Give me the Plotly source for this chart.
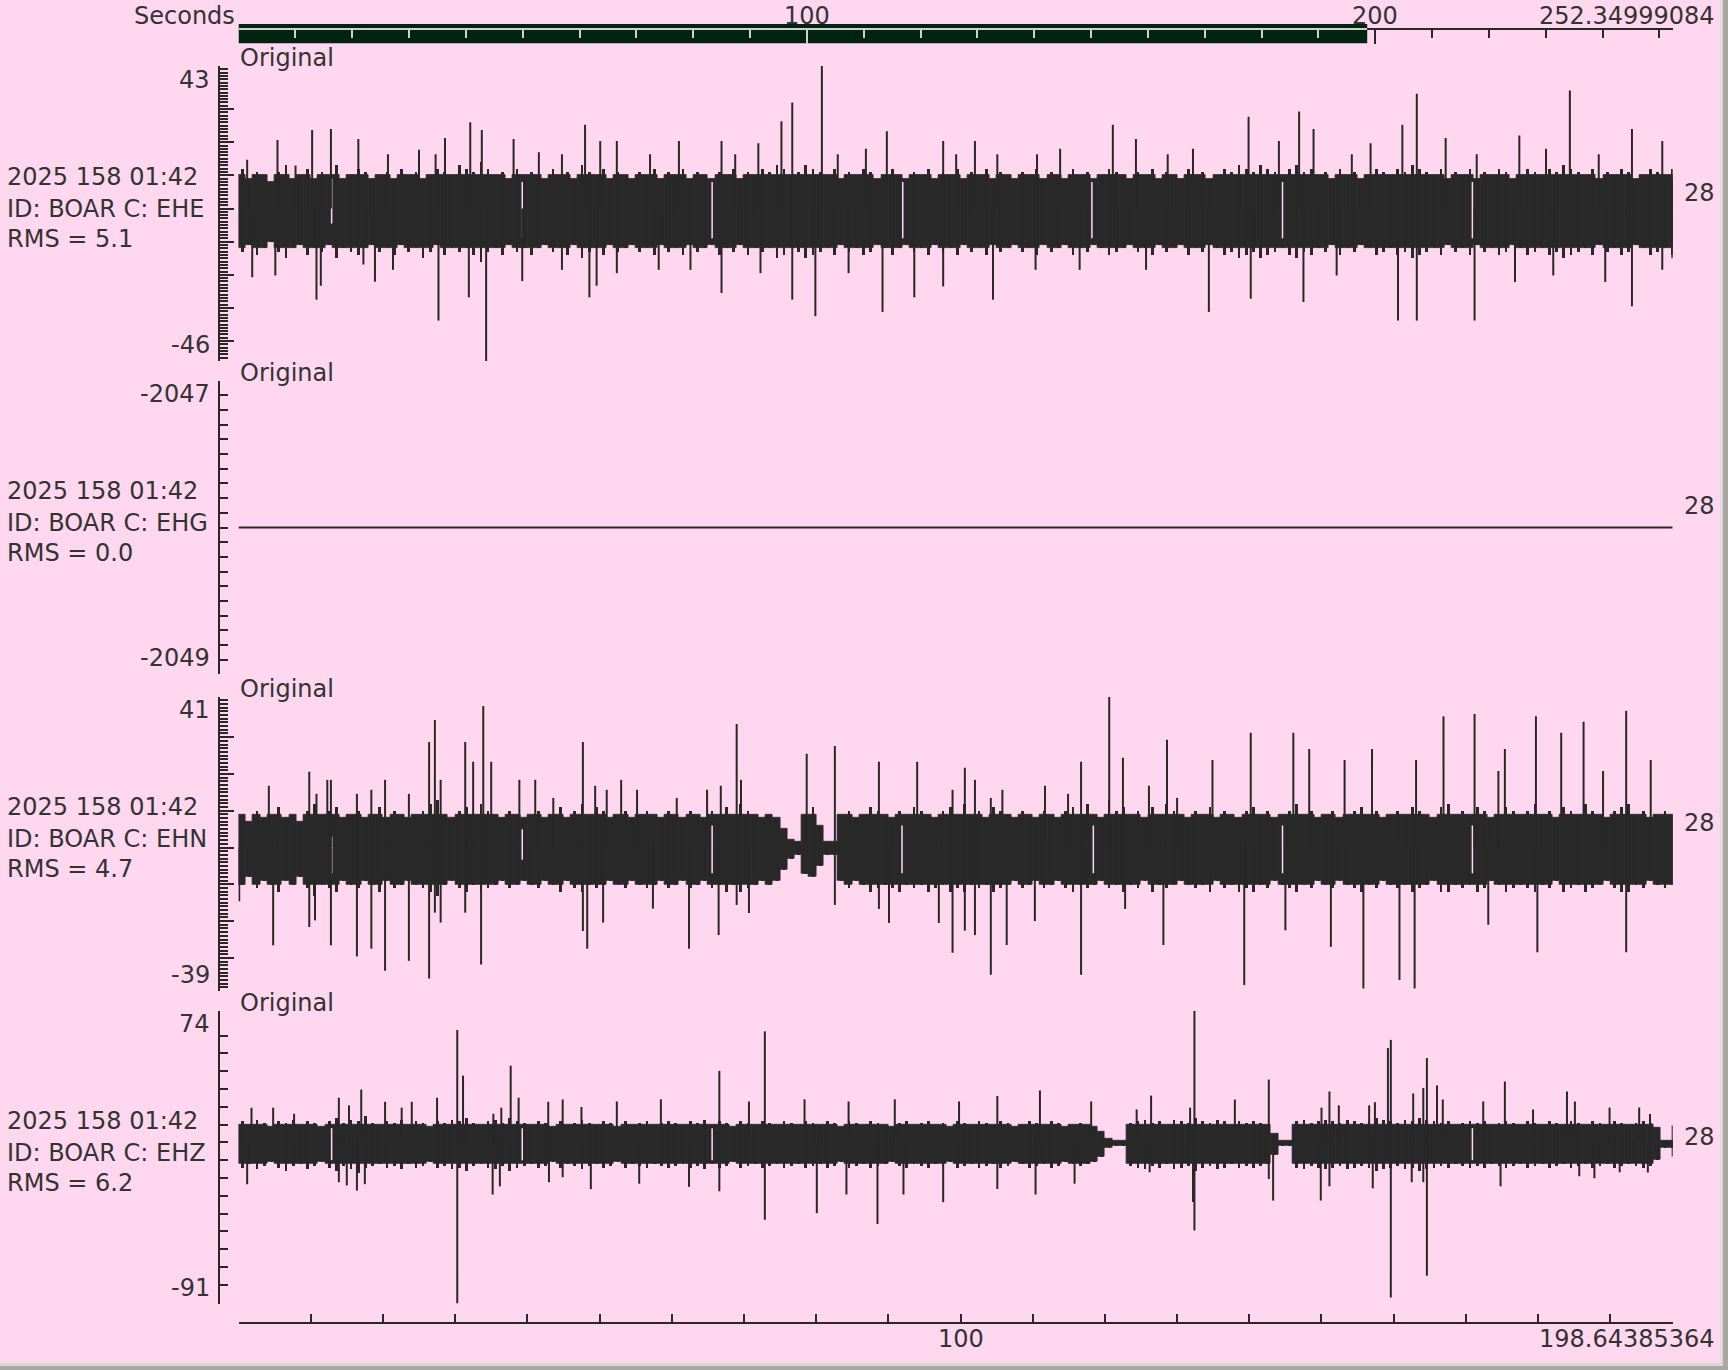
import plotly.graph_objects as go

# ---------------- canvas / style ----------------
W, H = 1728, 1370
BG = '#FFD8F0'
INK = '#282828'
TXT = '#333333'
FONT = 'DejaVu Sans'
FS = 24

# ---------------- header data ----------------
TOTAL_SECONDS = 252.34999084
VIEW_SECONDS = 198.64385364
DATE_LABEL = '2025 158 01:42'
STATION = 'BOAR'
channels = ['EHE', 'EHG', 'EHN', 'EHZ']
rms_values = ['5.1', '0.0', '4.7', '6.2']
y_max = [43, -2047, 41, 74]
y_min = [-46, -2049, -39, -91]
right_label = '28'
top_tick_labels = [100, 200]
bottom_tick_labels = [100]

# one envelope column per second of record (0 .. 198 s)
band_t = list(range(0, 199))

# ---------------- EHE (panel 1) ----------------
ehe_core = [10, -12]          # dense part of the trace
ehe_hi = [12, 9, 11, 10, 8, 11, 13, 9, 10, 12, 9, 11, 10, 13, 9, 10, 12, 11, 9, 10,
          11, 9, 12, 10, 11, 9, 10, 12, 11, 10, 13, 12, 11, 14, 12, 10, 11, 9, 12, 10,
          11, 10, 9, 12, 10, 11, 9, 13, 11, 10, 12, 9, 11, 10, 9, 11, 10, 12, 9, 11,
          10, 12, 9, 11, 10, 9, 11, 10, 12, 9, 11, 10, 12, 11, 13, 12, 10, 11, 13, 12,
          11, 10, 12, 9, 11, 10, 12, 11, 9, 10, 12, 10, 9, 11, 10, 12, 9, 11, 10, 12,
          9, 11, 10, 12, 9, 11, 10, 9, 11, 10, 12, 9, 11, 10, 9, 12, 10, 11, 9, 10,
          12, 11, 10, 9, 11, 10, 12, 9, 11, 10, 9, 12, 10, 11, 9, 10, 12, 11, 13, 12,
          11, 13, 12, 11, 10, 12, 13, 11, 12, 10, 11, 9, 12, 10, 11, 9, 10, 12, 11, 10,
          12, 11, 13, 12, 11, 10, 12, 9, 11, 10, 12, 9, 11, 10, 12, 11, 9, 10, 12, 11,
          10, 12, 11, 13, 12, 11, 10, 12, 9, 11, 10, 12, 11, 9, 10, 12, 11, 10, 12]
ehe_lo = [-13, -11, -14, -12, -10, -13, -15, -12, -11, -14, -12, -13, -11, -15, -12, -13, -14, -12, -11, -13,
          -12, -14, -11, -13, -12, -15, -13, -11, -14, -12, -13, -12, -14, -16, -13, -12, -14, -11, -13, -12,
          -14, -12, -11, -13, -12, -14, -11, -15, -13, -12, -14, -11, -13, -12, -11, -13, -12, -14, -11, -13,
          -12, -14, -11, -13, -12, -11, -14, -12, -13, -11, -14, -12, -13, -12, -15, -14, -12, -13, -15, -14,
          -13, -12, -14, -11, -13, -12, -14, -13, -11, -12, -14, -12, -11, -13, -12, -14, -11, -13, -12, -14,
          -11, -13, -12, -14, -11, -13, -12, -11, -13, -12, -14, -11, -13, -12, -11, -14, -12, -13, -11, -12,
          -14, -13, -12, -11, -13, -12, -14, -11, -13, -12, -11, -14, -12, -13, -11, -12, -14, -13, -15, -14,
          -13, -15, -14, -13, -12, -14, -15, -13, -14, -12, -13, -11, -14, -12, -13, -11, -12, -14, -13, -12,
          -14, -13, -15, -14, -13, -12, -14, -11, -13, -12, -14, -11, -13, -12, -14, -13, -11, -12, -14, -13,
          -12, -14, -13, -15, -14, -13, -12, -14, -11, -13, -12, -14, -13, -11, -12, -14, -13, -12, -14]
ehe_up_t = [1.2, 5.4, 7.9, 10.2, 12.8, 16.6, 20.7, 25.0, 27.3, 28.6,
            32.1, 33.7, 38.1, 41.6, 44.8, 48.0, 50.1, 52.4, 57.0, 61.0,
            66.9, 68.8, 72.0, 75.2, 76.7, 80.8, 83.0, 86.9, 89.8, 97.6,
            99.4, 102.0, 105.1, 110.6, 113.8, 121.1, 124.3, 128.7, 132.2, 139.9,
            144.1, 146.9, 148.9, 154.2, 156.8, 161.2, 163.2, 167.2, 171.5, 177.4,
            181.1, 184.4, 188.4, 193.0, 197.2, 198.6]
ehe_up_v = [14.7, 20.7, 13.0, 23.7, 24.0, 21.0, 16.4, 17.7, 16.4, 21.3,
            26.0, 23.7, 21.0, 17.0, 16.4, 25.3, 20.4, 20.4, 16.4, 20.4,
            20.4, 16.4, 19.7, 26.3, 32.0, 43.0, 16.4, 18.0, 23.3, 20.4,
            16.4, 20.4, 16.4, 16.4, 18.0, 25.3, 21.0, 16.4, 18.0, 27.7,
            20.4, 29.3, 24.0, 16.4, 19.7, 25.3, 34.6, 21.3, 16.4, 22.0,
            18.0, 35.6, 16.4, 24.0, 20.4, 9]
ehe_dn_t = [1.9, 5.1, 10.8, 11.4, 17.3, 18.9, 21.4, 27.7, 31.9, 34.3,
            39.3, 44.8, 48.6, 49.6, 52.4, 58.2, 62.6, 66.9, 72.3, 76.7,
            79.9, 84.5, 89.2, 93.6, 97.6, 104.5, 110.4, 116.5, 125.7, 134.4,
            140.2, 147.5, 152.1, 160.6, 163.2, 171.2, 176.8, 182.1, 189.3, 193.0,
            197.2, 198.6]
ehe_dn_v = [-20.7, -20.2, -27.5, -23.3, -16.9, -22.1, -18.5, -33.8, -26.8, -46.0,
            -21.9, -18.5, -26.8, -23.3, -19.5, -18.5, -18.5, -25.5, -19.5, -27.5,
            -32.5, -19.5, -31.2, -26.8, -23.5, -27.5, -18.5, -18.5, -18.5, -31.2,
            -27.2, -28.2, -20.2, -33.8, -33.8, -33.8, -22.2, -20.2, -22.2, -29.5,
            -18.5, -15]
ehe_gap_t = [12.9, 39.3, 65.6, 92.0, 118.2, 144.6, 170.9]
ehe_gap_top = [9, 8, 8, 8, 8, 8, 8]
ehe_gap_bot = [-4.5, -9, -9, -9, -9, -9, -9]

# ---------------- EHG (panel 2) ----------------
ehg_t = [0, 198.64]
ehg_v = [-2048, -2048]

# ---------------- EHN (panel 3) ----------------
ehn_core = [9, -10]
ehn_hi = [9, 7, 10, 8, 9, 11, 8, 9, 7, 10, 12, 9, 10, 11, 8, 9, 10, 8, 9, 11,
          8, 10, 9, 8, 9, 10, 12, 13, 9, 8, 10, 11, 9, 12, 10, 9, 8, 10, 9, 8,
          9, 10, 8, 9, 11, 8, 10, 12, 9, 11, 10, 8, 9, 10, 8, 9, 10, 9, 8, 10,
          9, 8, 10, 9, 8, 10, 9, 11, 9, 12, 10, 9, 8, 9, 8, 5, 2, 1.5, 9, 11,
          6, 1.5, 1.5, 9, 10, 8, 9, 11, 10, 9, 8, 10, 9, 11, 10, 9, 8, 10, 11, 9,
          12, 9, 10, 8, 11, 10, 9, 8, 10, 9, 8, 10, 9, 8, 10, 11, 9, 12, 9, 8,
          13, 10, 11, 9, 10, 8, 11, 9, 12, 10, 9, 8, 10, 9, 11, 8, 10, 9, 8, 10,
          11, 9, 10, 8, 9, 10, 12, 9, 10, 8, 9, 10, 8, 9, 10, 11, 9, 10, 8, 9,
          10, 9, 11, 10, 9, 8, 11, 12, 9, 10, 9, 11, 10, 8, 9, 11, 10, 9, 10, 12,
          9, 10, 8, 11, 10, 9, 12, 10, 9, 8, 10, 11, 12, 9, 10, 8, 9, 10, 9]
ehn_lo = [-10, -8, -11, -9, -10, -12, -9, -10, -8, -11, -13, -10, -11, -12, -9, -10, -11, -9, -10, -12,
          -9, -11, -10, -9, -10, -11, -12, -13, -10, -9, -11, -12, -10, -12, -11, -10, -9, -11, -10, -9,
          -10, -11, -9, -10, -12, -9, -11, -12, -10, -11, -10, -9, -10, -11, -9, -10, -11, -10, -9, -11,
          -10, -9, -11, -10, -9, -11, -10, -12, -10, -12, -11, -10, -9, -10, -9, -6, -3, -2, -7, -8,
          -5, -2, -2, -9, -11, -9, -10, -12, -11, -10, -11, -12, -10, -11, -10, -12, -11, -10, -12, -11,
          -12, -10, -11, -10, -12, -11, -10, -9, -11, -10, -9, -11, -10, -9, -11, -12, -10, -11, -10, -9,
          -11, -10, -12, -10, -11, -9, -12, -10, -11, -10, -9, -10, -11, -10, -12, -9, -11, -10, -12, -11,
          -12, -10, -11, -9, -10, -11, -12, -10, -11, -9, -10, -11, -9, -10, -11, -12, -10, -11, -9, -10,
          -11, -10, -12, -11, -10, -9, -12, -12, -10, -11, -10, -12, -11, -9, -10, -12, -11, -10, -11, -12,
          -10, -11, -9, -12, -11, -10, -12, -11, -10, -9, -11, -12, -12, -10, -11, -9, -10, -11, -10]
ehn_up_t = [4.2, 9.8, 10.8, 12.3, 12.8, 16.4, 18.4, 20.3, 23.6, 26.4,
            27.2, 28.0, 31.4, 32.5, 33.9, 35.0, 38.9, 41.1, 43.6, 47.7,
            49.4, 51.0, 53.0, 55.2, 60.7, 64.9, 66.8, 69.0, 69.6, 78.7,
            82.6, 88.7, 94.0, 98.9, 100.6, 102.0, 104.2, 105.8, 111.7, 114.9,
            116.7, 120.6, 122.5, 126.1, 128.6, 130.0, 134.9, 140.2, 146.1, 148.3,
            153.2, 157.0, 163.1, 166.9, 171.2, 174.5, 175.4, 179.7, 183.2, 186.3,
            189.0, 192.2, 195.6]
ehn_up_v = [16.8, 20.6, 14.6, 18.4, 18.4, 14.6, 15.7, 18.4, 14.6, 28.7,
            34.7, 18.4, 28.7, 23.3, 38.5, 23.3, 18.4, 18.4, 13.5, 28.7,
            16.8, 15.7, 18.4, 15.7, 13.5, 15.7, 16.8, 33.6, 18.4, 25.5,
            27.6, 23.3, 23.3, 15.7, 21.7, 18.4, 13.5, 15.7, 16.8, 14.6,
            23.3, 41.0, 24.4, 16.8, 29.3, 13.5, 23.8, 31.2, 31.2, 26.8,
            23.8, 26.8, 23.8, 35.7, 36.3, 20.8, 26.8, 35.7, 31.2, 34.2,
            20.8, 37.2, 23.8]
ehn_dn_t = [0.1, 4.8, 9.8, 10.6, 12.8, 16.4, 18.4, 20.3, 23.6, 26.4,
            27.2, 28.0, 31.4, 33.6, 47.7, 48.3, 50.5, 57.4, 62.4, 66.5,
            69.0, 70.7, 82.6, 88.7, 90.1, 97.0, 98.9, 100.6, 102.0, 104.2,
            106.4, 110.3, 116.7, 122.8, 128.1, 139.3, 145.0, 151.3, 155.8, 160.8,
            162.9, 173.1, 179.9, 192.2]
ehn_dn_v = [-14.6, -26.6, -21.6, -19.8, -26.6, -29.6, -27.5, -33.5, -30.8, -35.6,
            -17.7, -20.4, -17.7, -31.8, -22.7, -27.5, -20.4, -16.6, -27.5, -23.8,
            -15.6, -17.8, -15.6, -16.7, -20.5, -20.5, -28.6, -22.6, -23.8, -34.6,
            -26.5, -20.0, -34.6, -16.7, -26.5, -37.4, -22.5, -27.0, -38.3, -36.0,
            -38.3, -21.0, -28.5, -28.5]
ehn_gap_t = [12.9, 39.3, 65.6, 91.9, 118.4, 144.6, 170.9]
ehn_gap_top = [3, 5, 6, 6, 6, 6, 6]
ehn_gap_bot = [-7, -3.3, -7, -7, -7, -7, -7]

# ---------------- EHZ (panel 4) ----------------
ehz_core = [10, -12]
ehz_hi = [12, 10, 13, 11, 9, 12, 11, 13, 10, 12, 11, 9, 12, 14, 11, 13, 12, 15, 11, 10,
          12, 11, 13, 10, 12, 11, 9, 12, 11, 13, 12, 14, 11, 10, 12, 13, 11, 14, 12, 11,
          10, 12, 11, 9, 12, 10, 11, 13, 11, 10, 12, 11, 9, 12, 10, 11, 12, 10, 11, 12,
          11, 10, 12, 11, 13, 10, 12, 11, 9, 12, 11, 10, 12, 11, 10, 12, 11, 10, 12, 11,
          10, 12, 11, 9, 12, 11, 10, 12, 11, 10, 9, 11, 12, 10, 11, 12, 10, 11, 9, 12,
          11, 10, 12, 11, 10, 12, 11, 9, 10, 12, 11, 10, 12, 11, 9, 10, 11, 10, 9, 6,
          2, 1, 1, 11, 12, 13, 11, 12, 10, 13, 12, 11, 14, 12, 11, 13, 12, 10, 12, 11,
          12, 11, 10, 5, 1, 1, 12, 13, 11, 12, 13, 12, 11, 13, 12, 11, 12, 14, 13, 12,
          11, 13, 12, 14, 13, 12, 11, 12, 10, 11, 12, 11, 12, 10, 11, 12, 11, 10, 12, 11,
          10, 12, 11, 10, 12, 11, 10, 12, 11, 10, 12, 11, 10, 11, 12, 11, 8, 1, 1]
ehz_lo = [-14, -12, -15, -13, -11, -14, -16, -13, -12, -15, -13, -11, -14, -16, -13, -15, -17, -14, -13, -12,
          -14, -13, -15, -12, -14, -13, -11, -14, -13, -15, -14, -16, -13, -12, -14, -15, -13, -16, -14, -13,
          -12, -14, -13, -11, -14, -12, -13, -15, -13, -12, -14, -13, -11, -14, -12, -13, -14, -12, -13, -14,
          -13, -12, -14, -13, -15, -12, -14, -13, -11, -14, -13, -12, -14, -13, -12, -14, -13, -12, -14, -13,
          -12, -14, -13, -11, -14, -13, -12, -14, -13, -12, -11, -13, -14, -12, -13, -14, -12, -13, -11, -14,
          -13, -12, -14, -13, -12, -14, -13, -11, -12, -14, -13, -12, -14, -13, -11, -12, -13, -12, -11, -8,
          -3, -2, -2, -13, -14, -15, -13, -14, -12, -15, -14, -13, -16, -14, -13, -15, -14, -12, -14, -13,
          -14, -13, -12, -7, -2, -2, -14, -15, -13, -14, -15, -14, -13, -15, -14, -13, -14, -16, -15, -14,
          -13, -15, -14, -16, -15, -14, -13, -14, -12, -13, -14, -13, -14, -12, -13, -14, -13, -12, -14, -13,
          -12, -14, -13, -12, -14, -13, -12, -14, -13, -12, -14, -13, -12, -13, -14, -13, -10, -3, -3]
ehz_up_t = [1.8, 4.8, 7.7, 13.9, 15.3, 17.0, 20.3, 22.6, 24.0, 27.5,
            30.3, 31.1, 35.3, 36.4, 37.7, 38.8, 42.9, 44.9, 47.5, 52.4,
            58.5, 66.6, 70.7, 72.9, 78.4, 84.5, 90.9, 99.8, 105.1, 111.0,
            118.1, 124.4, 126.4, 131.8, 132.4, 138.0, 142.7, 150.0, 151.1, 152.4,
            156.6, 157.4, 159.2, 159.6, 162.7, 164.1, 164.6, 166.0, 166.8, 172.4,
            175.4, 179.3, 184.0, 185.1, 189.9, 194.0, 195.5, 198.64]
ehz_up_v = [19.5, 19.5, 16.1, 25.1, 20.8, 29.7, 22.8, 19.5, 22.8, 25.1,
            63.2, 37.5, 16.1, 19.5, 43.1, 25.1, 22.8, 24.1, 19.9, 23.0,
            24.2, 40.2, 23.0, 62.4, 24.2, 23.0, 24.2, 23.0, 26.1, 29.2,
            23.0, 18.5, 26.3, 19.5, 74.0, 24.1, 35.3, 19.5, 28.6, 20.8,
            20.8, 22.6, 53.0, 57.6, 27.5, 30.6, 47.4, 32.0, 24.1, 23.0,
            34.2, 18.5, 28.6, 23.0, 19.6, 19.6, 16.0, 9.5]
ehz_dn_t = [1.2, 13.9, 15.0, 16.4, 17.5, 30.3, 35.2, 36.2, 43.0, 44.9,
            48.8, 55.5, 62.4, 66.6, 72.9, 80.1, 84.2, 88.5, 92.1, 97.6,
            105.1, 110.4, 115.8, 126.2, 132.2, 132.4, 142.7, 143.3, 149.9, 151.1,
            157.1, 159.6, 162.5, 164.1, 164.6, 174.8, 185.7, 187.8, 191.3, 195.2,
            198.64]
ehz_dn_v = [-23.5, -22.4, -24.2, -27.1, -23.5, -90.4, -29.3, -24.7, -22.4, -19.6,
            -26.3, -23.2, -25.0, -27.5, -43.5, -39.8, -29.3, -45.9, -29.3, -33.6,
            -26.2, -29.3, -23.2, -16.8, -33.5, -49.5, -20.6, -32.7, -32.7, -24.7,
            -25.8, -87.2, -22.4, -22.4, -74.9, -24.7, -19.1, -20.2, -16.8, -17.0,
            -8.0]
ehz_gap_t = [12.9, 39.3, 65.6, 170.9]
ehz_gap_top = [8, 8, 8, 8]
ehz_gap_bot = [-10, -10, -10, -10]

# ---------------- tick lists ----------------
ehe_major = [30, 20, 10, 0, -10, -20, -30, -40]
ehn_major = [30, 20, 10, 0, -10, -20, -30]
ehz_ticks = [60, 50, 40, 30, 20, 10, 0, -10, -20, -30, -40, -50, -60, -70, -80]
ehg_step = 0.1
axis_step = 10


# ---------------- helpers (layout only) ----------------
def xp(px):
    return px / W


def yp(py):
    return 1 - py / H


X0, X1 = xp(238.5), xp(1672.7)
YAX_X = xp(219)
panel_px = [(66, 361), (380.7, 674.3), (696.7, 991), (1010.7, 1304.3)]
TOOTH = 0.38   # width (s) of the envelope "teeth" drawn outside the dense core

wave = {
    'EHE': dict(core=ehe_core, hi=ehe_hi, lo=ehe_lo, ut=ehe_up_t, uv=ehe_up_v, dt=ehe_dn_t,
                dv=ehe_dn_v, gt=ehe_gap_t, gtop=ehe_gap_top, gbot=ehe_gap_bot),
    'EHN': dict(core=ehn_core, hi=ehn_hi, lo=ehn_lo, ut=ehn_up_t, uv=ehn_up_v, dt=ehn_dn_t,
                dv=ehn_dn_v, gt=ehn_gap_t, gtop=ehn_gap_top, gbot=ehn_gap_bot),
    'EHZ': dict(core=ehz_core, hi=ehz_hi, lo=ehz_lo, ut=ehz_up_t, uv=ehz_up_v, dt=ehz_dn_t,
                dv=ehz_dn_v, gt=ehz_gap_t, gtop=ehz_gap_top, gbot=ehz_gap_bot),
}

fig = go.Figure()
annotations = []


def ann(text, x, y, xanchor='left', xref='paper', yanchor='middle'):
    annotations.append(dict(text=text, x=x, y=y, xref=xref, yref='paper',
                            xanchor=xanchor, yanchor=yanchor, showarrow=False,
                            font=dict(family=FONT, size=FS, color=TXT)))


for i, ch in enumerate(channels):
    yname = 'y' if i == 0 else f'y{i + 1}'
    top, bot = panel_px[i]
    if ch in wave:
        d = wave[ch]
        cols = list(zip(band_t, d['hi'], d['lo']))
        ct, cb = d['core']
        # envelope teeth (hi..lo per second)
        fig.add_trace(go.Bar(x=[c[0] for c in cols], y=[c[1] - c[2] for c in cols],
                             base=[c[2] for c in cols], offset=(1 - TOOTH) / 2, width=TOOTH,
                             marker=dict(color=INK, line=dict(width=0)),
                             yaxis=yname, hoverinfo='skip'))
        # dense core
        core_top = [min(c[1], ct) for c in cols]
        core_bot = [max(c[2], cb) for c in cols]
        fig.add_trace(go.Bar(x=[c[0] for c in cols], y=[a - b for a, b in zip(core_top, core_bot)],
                             base=core_bot, offset=0, width=1,
                             marker=dict(color=INK, line=dict(color=INK, width=0.8)),
                             yaxis=yname, hoverinfo='skip'))
        gx, gy = [], []
        for t, a, b in zip(d['gt'], d['gtop'], d['gbot']):
            gx += [t, t, None]
            gy += [a, b, None]
        fig.add_trace(go.Scatter(x=gx, y=gy, mode='lines', line=dict(color=BG, width=1.5),
                                 yaxis=yname, hoverinfo='skip'))
        sx, sy = [], []
        for t, v in zip(d['ut'], d['uv']):
            sx += [t, t, None]
            sy += [0, v, None]
        for t, v in zip(d['dt'], d['dv']):
            sx += [t, t, None]
            sy += [0, v, None]
        fig.add_trace(go.Scatter(x=sx, y=sy, mode='lines', line=dict(color=INK, width=2),
                                 yaxis=yname, hoverinfo='skip'))
    else:
        fig.add_trace(go.Scatter(x=ehg_t, y=ehg_v, mode='lines', line=dict(color=INK, width=2),
                                 yaxis=yname, hoverinfo='skip'))

    # y tick layout
    lo_v, hi_v = y_min[i], y_max[i]
    if ch == 'EHE':
        major = [hi_v] + ehe_major + [lo_v]
        minor = list(range(lo_v + 1, hi_v))
    elif ch == 'EHN':
        major = [hi_v] + ehn_major + [lo_v]
        minor = list(range(lo_v + 1, hi_v))
    elif ch == 'EHG':
        major = [hi_v, lo_v]
        nsteps = int(round((hi_v - lo_v) / ehg_step))
        minor = [round(lo_v + k * ehg_step, 2) for k in range(1, nsteps)]
    else:
        major = [hi_v, lo_v]
        minor = ehz_ticks

    key = 'yaxis' if i == 0 else f'yaxis{i + 1}'
    fig.layout[key] = dict(domain=[yp(bot), yp(top)], range=[lo_v, hi_v], anchor='free',
                           position=YAX_X, showline=True, linecolor=INK, linewidth=2,
                           ticks='inside', tickmode='array', tickvals=major, ticklen=14,
                           tickwidth=2, tickcolor=INK, showticklabels=False,
                           minor=dict(tickmode='array', tickvals=minor, ticklen=8, tickwidth=2,
                                      tickcolor=INK, ticks='inside', showgrid=False),
                           showgrid=False, zeroline=False, fixedrange=True)

    # text labels
    mid = (top + bot) / 2
    ann('Original', xp(238), yp(top - 7.5))
    ann(str(hi_v), xp(212), yp(top + 13.5), xanchor='right')
    ann(str(lo_v), xp(212), yp(bot - 16), xanchor='right')
    ann(DATE_LABEL, xp(5), yp(mid - 36.5))
    ann(f'ID: {STATION} C: {ch}', xp(5), yp(mid - 5))
    ann(f'RMS = {rms_values[i]}', xp(5), yp(mid + 25.5))
    ann(right_label, xp(1717), yp(mid - 21), xanchor='right')

# dummy traces so the top axes exist
fig.add_trace(go.Scatter(x=[None], y=[None], xaxis='x2', yaxis='y', hoverinfo='skip'))
fig.add_trace(go.Scatter(x=[None], y=[None], xaxis='x3', yaxis='y', hoverinfo='skip'))

view_split = X0 + (X1 - X0) * VIEW_SECONDS / TOTAL_SECONDS
top_ticks_a = [v for v in range(axis_step, int(VIEW_SECONDS) + 1, axis_step) if v not in top_tick_labels]
top_ticks_b = [v for v in range(axis_step, int(TOTAL_SECONDS) + 1, axis_step)
               if v > VIEW_SECONDS and v not in top_tick_labels]
bottom_ticks = list(range(axis_step, int(VIEW_SECONDS) + 1, axis_step))

fig.update_layout(
    width=W, height=H, margin=dict(l=0, r=0, t=0, b=0),
    paper_bgcolor=BG, plot_bgcolor='rgba(0,0,0,0)', showlegend=False,
    barmode='overlay', bargap=0,
    xaxis=dict(domain=[X0, X1], range=[0, VIEW_SECONDS], anchor='free', position=yp(1322.7),
               showline=True, linecolor=INK, linewidth=2, ticks='inside', tickmode='array',
               tickvals=[0, VIEW_SECONDS], ticklen=14, tickwidth=2, tickcolor=INK,
               minor=dict(tickmode='array', tickvals=bottom_ticks, ticklen=8, tickwidth=2,
                          tickcolor=INK, ticks='inside', showgrid=False),
               showticklabels=False, showgrid=False, zeroline=False, fixedrange=True),
    xaxis2=dict(domain=[X0, view_split], range=[0, VIEW_SECONDS], anchor='free', position=yp(29.3),
                side='top', showline=True, linecolor='#D0D0D0', linewidth=2, ticks='inside',
                tickmode='array', tickvals=[0] + [v for v in top_tick_labels if v < VIEW_SECONDS],
                ticklen=14, tickwidth=2, tickcolor='#D0D0D0',
                minor=dict(tickmode='array', tickvals=top_ticks_a, ticklen=7.5, tickwidth=2,
                           tickcolor='#D0D0D0', ticks='inside', showgrid=False),
                showticklabels=False, showgrid=False, zeroline=False, fixedrange=True),
    xaxis3=dict(domain=[view_split, X1], range=[VIEW_SECONDS, TOTAL_SECONDS], anchor='free',
                position=yp(29.3), side='top', showline=True, linecolor=INK, linewidth=2,
                ticks='inside', tickmode='array',
                tickvals=[v for v in top_tick_labels if v > VIEW_SECONDS] + [TOTAL_SECONDS],
                ticklen=14, tickwidth=2, tickcolor=INK,
                minor=dict(tickmode='array', tickvals=top_ticks_b, ticklen=7.5, tickwidth=2,
                           tickcolor=INK, ticks='inside', showgrid=False),
                showticklabels=False, showgrid=False, zeroline=False, fixedrange=True),
)

# visible-window bar on the top time axis and window frame edges
shapes = [
    dict(type='rect', xref='x2', yref='paper', x0=0, x1=VIEW_SECONDS, y0=yp(43.3), y1=yp(24),
         fillcolor='#00240F', line=dict(width=0), layer='below'),
    dict(type='rect', xref='paper', yref='paper', x0=xp(1720.5), x1=xp(1723), y0=0, y1=1,
         fillcolor='#D8D8D8', line=dict(width=0)),
    dict(type='rect', xref='paper', yref='paper', x0=xp(1723), x1=1, y0=0, y1=1,
         fillcolor='#A8A8A0', line=dict(width=0)),
    dict(type='rect', xref='paper', yref='paper', x0=0, x1=xp(1723), y0=yp(1366), y1=yp(1363),
         fillcolor='#D8D8D8', line=dict(width=0)),
    dict(type='rect', xref='paper', yref='paper', x0=0, x1=1, y0=0, y1=yp(1366),
         fillcolor='#A8A8A0', line=dict(width=0)),
]

# axis text (kept fully inside the page)
ann('Seconds', xp(237), 1, xanchor='right', yanchor='top')
for v in top_tick_labels:
    ann(str(v), v, 1, xanchor='center', xref='x2' if v < VIEW_SECONDS else 'x3', yanchor='top')
ann(f'{TOTAL_SECONDS:.8f}', xp(1717), 1, xanchor='right', yanchor='top')
for v in bottom_tick_labels:
    ann(str(v), v, yp(1339), xanchor='center', xref='x')
ann(f'{VIEW_SECONDS:.8f}', xp(1717), yp(1338.5), xanchor='right')

fig.update_layout(shapes=shapes, annotations=annotations)
fig.write_html('out.html', config={'displayModeBar': False},
               post_script="document.body.style.margin='0';"
                           "document.body.style.background='" + BG + "';")
